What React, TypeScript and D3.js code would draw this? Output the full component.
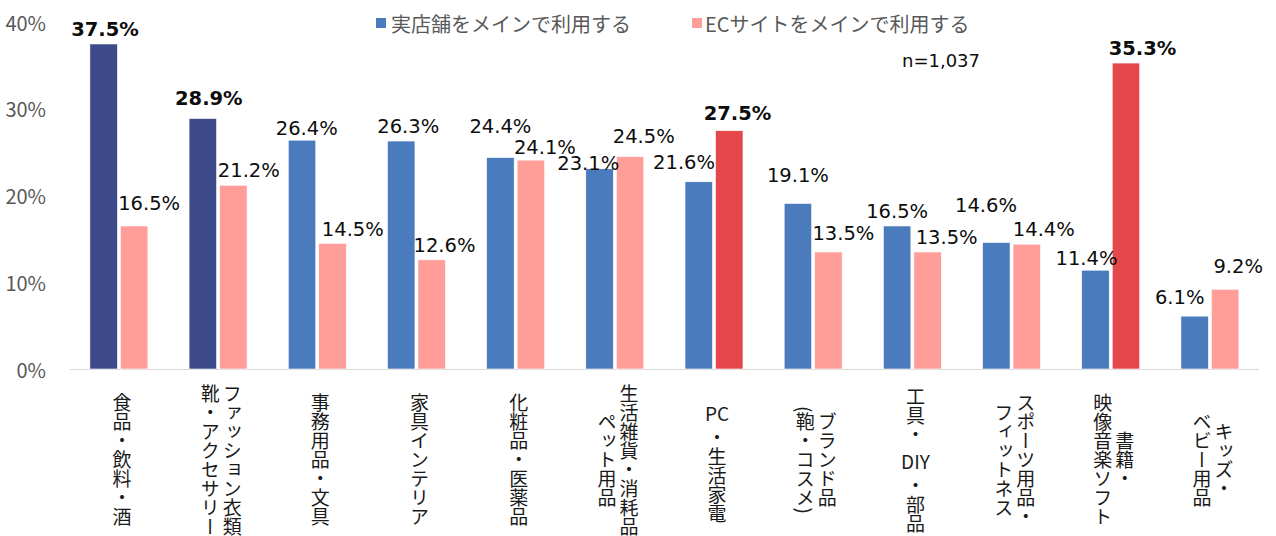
import React from "react";
import * as d3 from "d3";

// ---- data ----
const categories = [
  "食品・飲料・酒",
  "ファッション衣類 靴・アクセサリー",
  "事務用品・文具",
  "家具インテリア",
  "化粧品・医薬品",
  "生活雑貨・消耗品 ペット用品",
  "PC・生活家電",
  "ブランド品(鞄・コスメ)",
  "工具・DIY・部品",
  "スポーツ用品・フィットネス",
  "書籍・映像音楽ソフト",
  "キッズ・ベビー用品",
];
// axis label lines (vertical text, first line is the rightmost column)
const categoryLines = [
  ["食品・飲料・酒"],
  ["ファッション衣類", "靴・アクセサリー"],
  ["事務用品・文具"],
  ["家具インテリア"],
  ["化粧品・医薬品"],
  ["生活雑貨・消耗品", "ペット用品"],
  ["PC・生活家電"],
  ["ブランド品", "(鞄・コスメ)"],
  ["工具・DIY・部品"],
  ["スポーツ用品・", "フィットネス"],
  ["書籍・", "映像音楽ソフト"],
  ["キッズ・", "ベビー用品"],
];
const seriesNames = ["実店舗をメインで利用する", "ECサイトをメインで利用する"];
const storeValues = [37.5, 28.9, 26.4, 26.3, 24.4, 23.1, 21.6, 19.1, 16.5, 14.6, 11.4, 6.1];
const ecValues = [16.5, 21.2, 14.5, 12.6, 24.1, 24.5, 27.5, 13.5, 13.5, 14.4, 35.3, 9.2];
const highlightStore = [0, 1];
const highlightEc = [6, 10];
const yTicks = [0, 10, 20, 30, 40];
const sampleNote = "n=1,037";

// ---- label layout nudges (dx from bar centre, dy from bar top to baseline) ----
const storeLabelNudge: [number, number][] = [
  [1.4, -8], [6, -13.4], [4.7, -5.3], [7, -8.4], [0, -25], [-11.3, 1],
  [-14.7, -12.7], [0, -21.7], [0, -8.4], [-10.3, -30.7], [-9, -5], [-15, -12.3],
];
const ecLabelNudge: [number, number][] = [
  [15, -15.6], [15.5, -8.4], [20.3, -7], [12.8, -8], [14, -6], [13.7, -13.3],
  [8.3, -10.6], [15, -11.7], [19, -7.7], [17, -8.6], [16.5, -8.3], [13, -16.4],
];

// ---- style ----
const W = 1276;
const H = 536;
const NAVY = "#3D4A89";
const BLUE = "#4A7BBD";
const PINK = "#FF9E99";
const RED = "#E5484A";
const JP = "'Noto Sans CJK JP', 'Noto Sans', sans-serif";
const NUM = "'DejaVu Sans', Verdana, sans-serif";

function VerticalColumn({ x, cy, text, fs }: { x: number; cy: number; text: string; fs: number }) {
  const segs = text.split(/([A-Za-z]+)/).filter((s) => s.length > 0);
  const isLatin = (s: string) => /^[A-Za-z]+$/.test(s);
  if (segs.length === 1 && !isLatin(segs[0])) {
    return (
      <text
        x={x}
        y={cy}
        textAnchor="middle"
        style={{ writingMode: "vertical-rl" as any }}
        fontFamily={JP}
        fontSize={fs}
        fill="#1a1a1a"
      >
        {text}
      </text>
    );
  }
  const latinH = fs * 1.7;
  const heights = segs.map((s) => (isLatin(s) ? latinH : s.length * fs));
  const total = d3.sum(heights);
  let y0 = cy - total / 2;
  const out: React.ReactNode[] = [];
  segs.forEach((s, i) => {
    if (isLatin(s)) {
      out.push(
        <text key={i} x={x} y={y0 + heights[i] / 2} textAnchor="middle" dominantBaseline="central"
          fontFamily={JP} fontSize={fs} fill="#1a1a1a">{s}</text>
      );
    } else {
      out.push(
        <text key={i} x={x} y={y0} textAnchor="start" style={{ writingMode: "vertical-rl" as any }}
          fontFamily={JP} fontSize={fs} fill="#1a1a1a">{s}</text>
      );
    }
    y0 += heights[i];
  });
  return <g>{out}</g>;
}

export default function App() {
  const x0 = d3.scaleBand<string>().domain(categories).range([69.4, 1259.6]).padding(0);
  const x1 = d3
    .scaleBand<string>()
    .domain(["store", "ec"])
    .range([20.5, 78.5])
    .paddingInner(0.098)
    .paddingOuter(0);
  const y = d3.scaleLinear().domain([0, 40]).range([369, 22.3]);
  const bw = x1.bandwidth();

  const storeColor = (i: number) => (highlightStore.includes(i) ? NAVY : BLUE);
  const ecColor = (i: number) => (highlightEc.includes(i) ? RED : PINK);

  return (
    <svg width={W} height={H} style={{ position: "absolute", left: 0, top: 0, background: "#fff" }}>
      {/* y tick labels */}
      {yTicks.map((t) => (
        <text key={t} x={46} y={y(t)} textAnchor="end" dominantBaseline="central"
          fontFamily={JP} fontSize={20} fill="#595959">{`${t}%`}</text>
      ))}
      {/* axis line */}
      <line x1={70} x2={1259} y1={y(0) + 0.5} y2={y(0) + 0.5} stroke="#D9D9D9" strokeWidth={1.2} />

      {/* bars */}
      {categories.map((c, i) => {
        const bx = x0(c)!;
        const sx = bx + x1("store")!;
        const ex = bx + x1("ec")!;
        return (
          <g key={c}>
            <rect x={sx} y={y(storeValues[i])} width={bw} height={y(0) - y(storeValues[i])}
              fill={storeColor(i)} stroke="#fff" strokeWidth={0.6} />
            <rect x={ex} y={y(ecValues[i])} width={bw} height={y(0) - y(ecValues[i])}
              fill={ecColor(i)} stroke="#fff" strokeWidth={0.6} />
          </g>
        );
      })}

      {/* value labels */}
      {categories.map((c, i) => {
        const bx = x0(c)!;
        const sc = bx + x1("store")! + bw / 2;
        const ec = bx + x1("ec")! + bw / 2;
        const sb = highlightStore.includes(i);
        const eb = highlightEc.includes(i);
        return (
          <g key={"l" + c}>
            <text x={sc + storeLabelNudge[i][0]} y={y(storeValues[i]) + storeLabelNudge[i][1]}
              textAnchor="middle" fontFamily={NUM} fontSize={19.5} fontWeight={sb ? 700 : 400}
              fill="#0d0d0d">{`${storeValues[i].toFixed(1)}%`}</text>
            <text x={ec + ecLabelNudge[i][0]} y={y(ecValues[i]) + ecLabelNudge[i][1]}
              textAnchor="middle" fontFamily={NUM} fontSize={19.5} fontWeight={eb ? 700 : 400}
              fill="#0d0d0d">{`${ecValues[i].toFixed(1)}%`}</text>
          </g>
        );
      })}

      {/* category labels */}
      {categories.map((c, i) => {
        const cx = x0(c)! + x0.bandwidth() / 2 + 3;
        const lines = categoryLines[i];
        const gap = 22;
        return (
          <g key={"c" + c}>
            {lines.map((ln, j) => {
              const colX = cx + ((lines.length - 1) / 2 - j) * gap;
              return <VerticalColumn key={j} x={colX} cy={460} text={ln} fs={19} />;
            })}
          </g>
        );
      })}

      {/* legend */}
      <g>
        <rect x={376} y={18} width={10} height={10} fill={BLUE} />
        <text x={391} y={23} dominantBaseline="central" fontFamily={JP} fontSize={20} fill="#595959">
          {seriesNames[0]}
        </text>
        <rect x={692} y={18} width={10} height={10} fill={PINK} />
        <text x={705} y={23} dominantBaseline="central" fontFamily={JP} fontSize={20} fill="#595959">
          {seriesNames[1]}
        </text>
      </g>
      <text x={980} y={60} textAnchor="end" dominantBaseline="central" fontFamily={NUM} fontSize={18}
        fill="#0d0d0d">{sampleNote}</text>
    </svg>
  );
}
